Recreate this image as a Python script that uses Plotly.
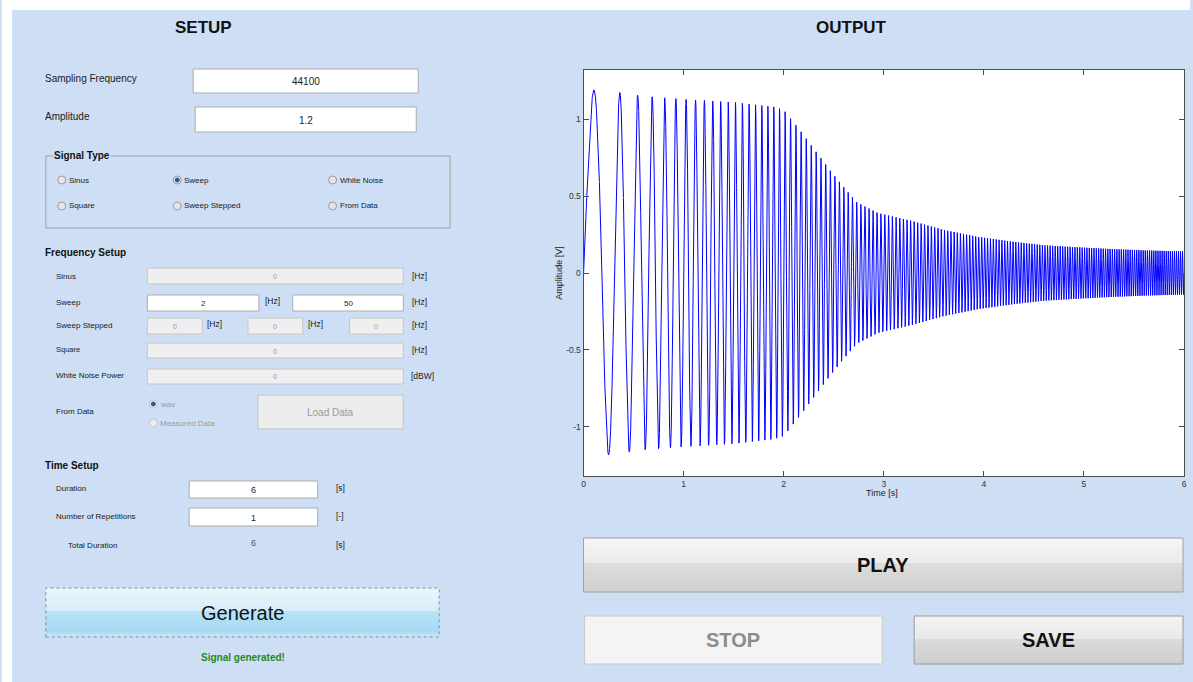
import numpy as np
import plotly.graph_objects as go

# ---------------- data ----------------
sampling_frequency = 44100
amplitude = 1.2
sweep_f0 = 2.0          # Hz (from the Sweep fields)
sweep_f1 = 50.0         # Hz
duration = 6.0          # s
plot_rate = 4000        # points per second drawn

# envelope of the output signal (time [s], amplitude [V])
env_t = [0.0, 0.1, 0.3, 0.6, 1.0, 1.5, 1.9, 2.0, 2.16, 2.31, 2.46, 2.61, 2.73,
         2.94, 3.27, 3.6, 3.94, 4.27, 4.6, 4.94, 5.27, 5.6, 6.0]
env_a = [1.2, 1.19, 1.18, 1.15, 1.13, 1.11, 1.08, 1.06, 0.93, 0.80, 0.67, 0.55, 0.46,
         0.39, 0.34, 0.28, 0.235, 0.205, 0.18, 0.167, 0.156, 0.147, 0.14]

x_ticks = [0, 1, 2, 3, 4, 5, 6]
y_ticks = [-1, -0.5, 0, 0.5, 1]
y_ticklabels = ["-1", "-0.5", "0", "0.5", "1"]

signal_types = [["Sinus", "Sweep", "White Noise"], ["Square", "Sweep Stepped", "From Data"]]
selected_type = "Sweep"

t = np.linspace(0, duration, int(plot_rate * duration) + 1)
phase = 2 * np.pi * (sweep_f0 * t + (sweep_f1 - sweep_f0) / (2 * duration) * t ** 2)
sig = np.interp(t, env_t, env_a) * np.sin(phase)

# ---------------- layout helpers ----------------
W, H = 1193, 682
BLUE = "#cedff5"
FONT = "Liberation Sans, Arial, sans-serif"


def px(x):
    return x / W


def py(y):
    return 1 - y / H


shapes, ann = [], []


def R(x0, y0, x1, y1, fill=None, line=None, w=1, dash=None):
    shapes.append(dict(type="rect", xref="paper", yref="paper",
                       x0=px(x0), x1=px(x1), y0=py(y1), y1=py(y0),
                       fillcolor=fill or "rgba(0,0,0,0)",
                       line=dict(color=line or "rgba(0,0,0,0)", width=w if line else 0,
                                 dash=dash or "solid")))


def hexrgb(c):
    c = c.lstrip("#")
    return [int(c[i:i + 2], 16) for i in (0, 2, 4)]


def G(x0, y0, x1, y1, c0, c1, n=6):
    a, b = hexrgb(c0), hexrgb(c1)
    for i in range(n):
        f = i / max(n - 1, 1)
        col = "rgb({},{},{})".format(*[round(a[k] + (b[k] - a[k]) * f) for k in range(3)])
        ya = y0 + (y1 - y0) * i / n
        yb = y0 + (y1 - y0) * (i + 1) / n
        R(x0, ya, x1, yb + 0.3, col)


def C(cx, cy, r, fill, line):
    shapes.append(dict(type="circle", xref="paper", yref="paper",
                       x0=px(cx - r), x1=px(cx + r), y0=py(cy + r), y1=py(cy - r),
                       fillcolor=fill, line=dict(color=line, width=1)))


def T(x, y, s, size=10, color="#1a1a1a", anchor="left", bold=False, bg=None, angle=0):
    ann.append(dict(x=px(x), y=py(y), xref="paper", yref="paper",
                    text=f"<b>{s}</b>" if bold else s, showarrow=False,
                    xanchor=anchor, yanchor="middle", textangle=angle,
                    font=dict(family=FONT, size=size, color=color),
                    bgcolor=bg, borderpad=0))


def radio(cx, cy, label, selected=False, enabled=True):
    C(cx, cy, 4, "#e6e6e6" if enabled else "#ededed", "#9a9a9a" if enabled else "#c4c4c4")
    if selected:
        C(cx, cy, 2, "#1f5d9c", "#1f5d9c")
    T(cx + 6, cy, label, 8, "#1a1a1a" if enabled else "#9a9a9a")


def field(x0, y0, x1, y1, value, enabled=True, size=10):
    if enabled:
        R(x0, y0, x1, y1, "white", "#ababab")
        T((x0 + x1) / 2, (y0 + y1) / 2 + 0.5, value, size, "#1a1a1a", "center")
    else:
        R(x0, y0, x1, y1, "#efefef", "#c6c6c6")
        T((x0 + x1) / 2, (y0 + y1) / 2 + 0.5, value, 7, "#9a9a9a", "center")


# white border strips
R(0, 0, 1193, 10, "white")
R(0, 0, 10, 682, "white")

# titles
T(202, 28, "SETUP", 17, "#111", "center", True)
T(853, 28, "OUTPUT", 17, "#111", "center", True)

# sampling frequency / amplitude
T(42, 78, "Sampling Frequency", 10)
field(192, 69, 418, 93, str(sampling_frequency))
T(42, 117, "Amplitude", 10)
field(194, 107, 416, 132, str(amplitude))

# signal type group
R(44, 156, 450, 228, None, "#a0a0a0")
T(51, 155, "Signal Type", 10, "#111", "left", True, bg=BLUE)
col_x = [60, 176, 332]
row_y = [180, 206]
for ri, row in enumerate(signal_types):
    for ci, lab in enumerate(row):
        radio(col_x[ci], row_y[ri], lab, lab == selected_type)

# frequency setup
T(42, 252, "Frequency Setup", 10, "#111", "left", True)
T(53, 276, "Sinus", 8)
field(146, 268, 403, 284, "0", False)
T(411, 276, "[Hz]", 8.5)

T(53, 302, "Sweep", 8)
field(146, 295, 258, 311, f"{sweep_f0:g}", True, 8)
T(263, 301, "[Hz]", 8.5)
field(292, 295, 403, 311, f"{sweep_f1:g}", True, 8)
T(411, 302, "[Hz]", 8.5)

T(53, 325, "Sweep Stepped", 8)
field(146, 318, 201, 334, "0", False)
T(205, 324, "[Hz]", 8.5)
field(247, 318, 302, 334, "0", False)
T(306, 324, "[Hz]", 8.5)
field(349, 318, 403, 334, "0", False)
T(411, 325, "[Hz]", 8.5)

T(53, 349, "Square", 7.5)
field(146, 343, 403, 358, "0", False)
T(411, 350, "[Hz]", 8.5)

T(53, 376, "White Noise Power", 8)
field(146, 369, 403, 384, "0", False)
T(410, 376, "[dBW]", 8.5)

T(53, 411, "From Data", 8)
radio(152, 404, "wav", True, False)
radio(152, 423, "Measured Data", False, False)
R(257, 395, 403, 429, "#ececec", "#c4c4c4")
T(330, 412, "Load Data", 10, "#9a9a9a", "center")

# time setup
T(42, 466, "Time Setup", 10, "#111", "left", True)
T(53, 488, "Duration", 8)
field(188, 481, 317, 498, f"{duration:g}", True, 9)
T(334, 488, "[s]", 8.5)
T(53, 516, "Number of Repetitions", 8)
field(188, 508, 317, 526, "1", True, 9)
T(334, 516, "[-]", 8.5)
T(65, 545, "Total Duration", 8)
T(253, 543, f"{duration:g}", 9, "#555", "center")
T(334, 545, "[s]", 8.5)

# generate button
G(44, 588, 439, 611, "#e8f6fd", "#d8eefa", 5)
G(44, 611, 439, 632, "#b4e2f7", "#a7dbf4", 5)
G(44, 632, 439, 637, "#b0dff5", "#c4e7f7", 2)
R(44, 588, 439, 637, None, "#8a8a8a", 1, "dot")
T(242, 613, "Generate", 20, "#111", "center")
T(242, 657, "Signal generated!", 10, "#1e8a1e", "center", True)

# right-side buttons
G(584, 538, 1186, 563, "#f5f5f5", "#ececec", 5)
G(584, 563, 1186, 592, "#dcdcdc", "#d0d0d0", 6)
R(584, 538, 1186, 592, None, "#a0a0a0")
T(885, 565, "PLAY", 20, "#111", "center", True)

R(585, 616, 884, 664, "#f4f4f4", "#cacaca")
T(734, 640, "STOP", 20, "#8c8c8c", "center", True)

G(916, 616, 1186, 639, "#f3f3f3", "#eaeaea", 5)
G(916, 639, 1186, 664, "#dadada", "#cfcfcf", 5)
R(916, 616, 1186, 664, None, "#9a9a9a")
T(1051, 640, "SAVE", 20, "#111", "center", True)

# axis titles
T(559, 273, "Amplitude [V]", 9, "#222", "center", angle=-90)
T(884, 493, "Time [s]", 9, "#222", "center")

# ---------------- figure ----------------
fig = go.Figure(go.Scatter(x=t, y=sig, mode="lines",
                           line=dict(color="#0000ff", width=1), hoverinfo="skip"))

axis_common = dict(showgrid=False, zeroline=False, showline=True, linecolor="#4d4d4d",
                   linewidth=1, mirror="ticks", ticks="inside", ticklen=5,
                   tickcolor="#4d4d4d", tickfont=dict(family=FONT, size=8.5, color="#333"))
fig.update_layout(
    width=W, height=H, margin=dict(l=0, r=0, t=0, b=0),
    paper_bgcolor=BLUE, plot_bgcolor="white", showlegend=False,
    xaxis=dict(domain=[px(584), px(1187)], range=[0, 6], tickvals=x_ticks, **axis_common),
    yaxis=dict(domain=[py(476), py(70)], range=[-1.32, 1.32], tickvals=y_ticks,
               ticktext=y_ticklabels, **axis_common),
    shapes=shapes, annotations=ann,
)
fig.write_html("out.html", config={"displayModeBar": False},
               post_script="document.body.style.margin='0';document.body.style.overflow='hidden';")
